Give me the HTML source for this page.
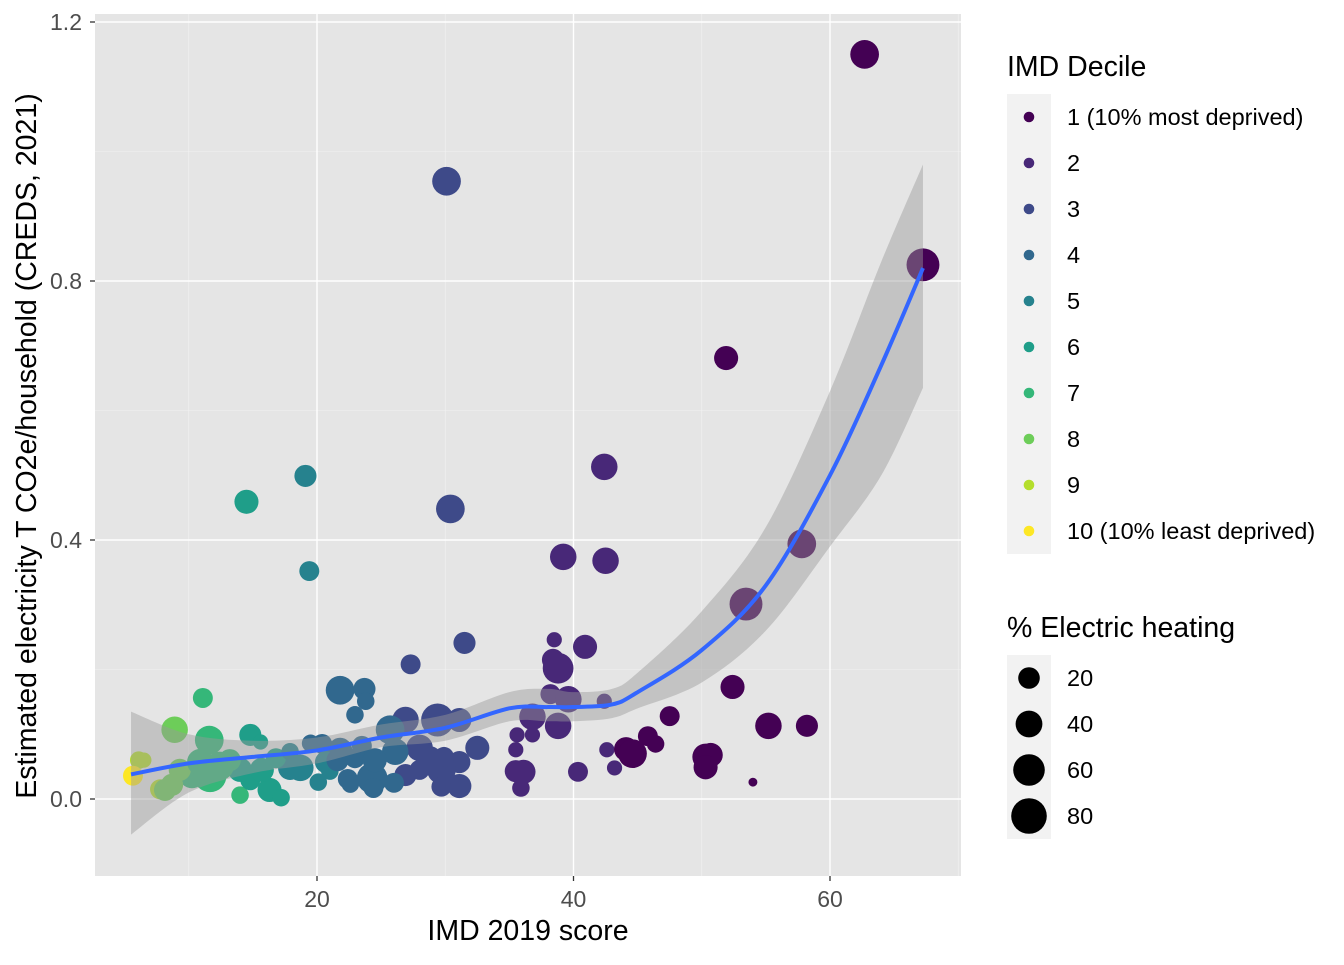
<!DOCTYPE html>
<html><head><meta charset="utf-8"><style>
body{margin:0;background:#fff;font-family:"Liberation Sans",Arial,sans-serif}
svg text{font-family:"Liberation Sans",Arial,sans-serif}
</style></head><body>
<svg id="chart" width="1344" height="960" xmlns="http://www.w3.org/2000/svg">
<rect x="95" y="14" width="866" height="862" fill="#e5e5e5"/>
<g id="grid"></g>
<g id="pts"></g>
<g id="smooth"></g>
<g id="axes"></g>
<text x="528" y="940" font-size="28.5" text-anchor="middle" fill="#000">IMD 2019 score</text>
<text transform="translate(36,446) rotate(-90)" font-size="28.5" text-anchor="middle" fill="#000">Estimated electricity T CO2e/household (CREDS, 2021)</text>
<g id="legend"></g>
</svg>
<script>
const deciles=["1 (10% most deprived)","2","3","4","5","6","7","8","9","10 (10% least deprived)"];
const colors=["#440154","#482878","#3E4A89","#31688E","#26828E","#1F9E89","#35B779","#6DCD59","#B4DE2C","#FDE725"];
const xTicks=[20,40,60];
const yTicks=[0.0,0.4,0.8,1.2];
const yTickLabels=["0.0","0.4","0.8","1.2"];
const sizeBreaks=[20,40,60,80];
// points: imd score, electricity, decile, % electric heating
const px=[62.7,67.25,51.9,30.1,30.4,42.4,39.2,42.5,57.8,53.45,19.1,14.5,19.4,31.5,27.3,40.9,38.5,38.4,38.8,52.4,21.8,23.7,23.8,38.2,39.6,42.4,11.1,47.5,55.2,58.2,36.8,38.8,22.96,26.9,29.4,31.1,25.7,8.9,11.6,14.8,15.6,32.5,28.0,19.5,20.4,21.8,23.5,26.1,35.5,36.8,35.6,42.6,44.1,44.6,45.8,46.4,50.3,50.7,50.3,53.99,40.35,43.2,35.5,36.1,35.9,31.1,29.7,31.1,29.7,26.9,28.0,24.3,24.4,26.0,22.4,22.6,20.1,18.7,17.9,21.0,20.7,16.3,17.2,14.0,14.8,15.7,14.0,12.4,11.66,10.25,9.3,8.7,7.76,8.15,6.5,6.1,5.65,10.9,13.2,16.8,17.9,21.6,22.96,24.5,28.8,29.9];
const py=[1.15,0.825,0.681,0.954,0.448,0.513,0.374,0.368,0.394,0.301,0.499,0.459,0.352,0.241,0.208,0.235,0.246,0.215,0.202,0.173,0.168,0.17,0.151,0.162,0.154,0.151,0.156,0.128,0.113,0.113,0.127,0.113,0.13,0.122,0.122,0.122,0.107,0.107,0.091,0.099,0.088,0.079,0.079,0.086,0.085,0.076,0.082,0.073,0.076,0.099,0.099,0.076,0.077,0.07,0.097,0.085,0.065,0.068,0.049,0.026,0.042,0.048,0.043,0.042,0.017,0.057,0.045,0.02,0.019,0.037,0.045,0.032,0.017,0.025,0.031,0.023,0.026,0.048,0.048,0.043,0.057,0.014,0.002,0.006,0.029,0.045,0.045,0.051,0.036,0.037,0.045,0.022,0.015,0.014,0.06,0.06,0.036,0.057,0.06,0.063,0.073,0.06,0.063,0.06,0.063,0.065];
const pd=[1,1,1,3,3,2,2,2,1,1,5,6,5,3,3,2,2,2,2,1,4,4,4,2,2,2,7,1,1,1,2,2,4,3,3,3,4,8,7,6,6,3,3,4,4,4,4,4,2,2,2,2,1,1,1,1,1,1,1,1,2,2,2,2,2,3,3,3,3,3,3,4,4,4,4,4,5,5,5,5,5,6,6,7,6,6,6,7,7,7,8,8,9,8,9,9,10,7,7,6,5,4,4,4,3,3];
const ps=[50,67,34,50,50,42,42,42,50,67,28,34,22,28,22,34,11,28,58,34,50,28,16,22,42,11,22,22,42,28,42,42,16,42,67,34,50,42,50,28,11,34,42,16,22,34,22,42,11,11,11,11,34,50,22,16,42,34,34,1,22,11,28,34,16,28,50,34,22,28,22,58,22,22,22,16,16,42,34,16,28,34,16,16,22,34,34,50,67,42,28,28,22,28,11,16,22,42,28,22,16,28,22,34,34,22];
// loess fit and confidence band
const sx=[5.5,10,15,20,25,30,35,38,40,43,45,50,55,60,64,67.25];
const sfit=[0.038,0.055,0.065,0.075,0.095,0.11,0.14,0.142,0.142,0.146,0.165,0.23,0.33,0.5,0.67,0.82];
const slo=[-0.055,0.01,0.04,0.055,0.08,0.09,0.12,0.12,0.12,0.125,0.14,0.18,0.26,0.39,0.5,0.635];
const shi=[0.135,0.1,0.09,0.095,0.115,0.13,0.165,0.17,0.165,0.17,0.195,0.29,0.42,0.63,0.83,0.98];

const X=v=>317+(v-20)*12.825;
const Y=v=>799-v*647.5;
const R=p=>Math.sqrt(16+3.8*Math.max(0,p));
const NS="http://www.w3.org/2000/svg";
function mk(tag,attrs,parent){const e=document.createElementNS(NS,tag);for(const k in attrs)e.setAttribute(k,attrs[k]);parent.appendChild(e);return e;}
function curve(P){let d='';for(let i=0;i<P.length-1;i++){const p0=P[Math.max(0,i-1)],p1=P[i],p2=P[i+1],p3=P[Math.min(P.length-1,i+2)];
const c1=[p1[0]+(p2[0]-p0[0])/6,p1[1]+(p2[1]-p0[1])/6],c2=[p2[0]-(p3[0]-p1[0])/6,p2[1]-(p3[1]-p1[1])/6];
d+=' C'+c1+' '+c2+' '+p2;}return d;}
const grid=document.getElementById('grid');
[10,30,50,70].forEach(v=>{const l=mk('line',{x1:X(v),x2:X(v),y1:14,y2:876,stroke:'#f2f2f2','stroke-width':0.6},grid);});
[0.2,0.6,1.0].forEach(v=>{const l=mk('line',{x1:95,x2:961,y1:Y(v),y2:Y(v),stroke:'#f2f2f2','stroke-width':0.6},grid);});
xTicks.forEach(v=>{const l=mk('line',{x1:X(v),x2:X(v),y1:14,y2:876,stroke:'#fff','stroke-width':1.4},grid);});
yTicks.forEach(v=>{const l=mk('line',{x1:95,x2:961,y1:Y(v),y2:Y(v),stroke:'#fff','stroke-width':1.4},grid);});
const pts=document.getElementById('pts');
px.forEach((v,i)=>{const c=mk('circle',{cx:X(v),cy:Y(py[i]),r:R(ps[i]),fill:colors[pd[i]-1]},pts);

});
const sm=document.getElementById('smooth');
const hiP=sx.map((v,i)=>[X(v),Y(shi[i])]);
const loP=sx.map((v,i)=>[X(v),Y(slo[i])]).reverse();
const fitP=sx.map((v,i)=>[X(v),Y(sfit[i])]);
const rb=mk('path',{d:'M'+hiP[0]+curve(hiP)+' L'+loP[0]+curve(loP)+'Z',fill:'#999999','fill-opacity':0.45},sm);


const ln=mk('path',{d:'M'+fitP[0]+curve(fitP),fill:'none',stroke:'#3366FF','stroke-width':4,'stroke-linejoin':'round'},sm);


const ax=document.getElementById('axes');
xTicks.forEach(v=>{mk('line',{x1:X(v),x2:X(v),y1:876,y2:881,stroke:'#333','stroke-width':1.3},ax);
const t=mk('text',{x:X(v),y:907,'font-size':23,'text-anchor':'middle',fill:'#4d4d4d'},ax);t.textContent=v;
});
yTicks.forEach((v,i)=>{mk('line',{x1:90,x2:95,y1:Y(v),y2:Y(v),stroke:'#333','stroke-width':1.3},ax);
const t=mk('text',{x:82,y:Y(v)+8,'font-size':23,'text-anchor':'end',fill:'#4d4d4d'},ax);t.textContent=yTickLabels[i];
});
const lg=document.getElementById('legend');
let t=mk('text',{x:1007,y:76,'font-size':28.5,fill:'#000'},lg);t.textContent='IMD Decile';

mk('rect',{x:1007,y:94,width:44,height:460,fill:'#f2f2f2'},lg);
deciles.forEach((s,i)=>{const y=117+i*46;
const c=mk('circle',{cx:1029,cy:y,r:5.3,fill:colors[i]},lg);

const tt=mk('text',{x:1067,y:y+8,'font-size':23.5,fill:'#000'},lg);tt.textContent=s;
});
t=mk('text',{x:1007,y:637,'font-size':28.5,fill:'#000'},lg);t.textContent='% Electric heating';

mk('rect',{x:1007,y:655,width:44,height:184,fill:'#f2f2f2'},lg);
sizeBreaks.forEach((s,i)=>{const y=678+i*46;
const c=mk('circle',{cx:1029,cy:y,r:[10.8,13.4,15.8,17.8][i],fill:'#000'},lg);

const tt=mk('text',{x:1067,y:y+8,'font-size':23.5,fill:'#000'},lg);tt.textContent=s;
});
</script>
</body></html>
